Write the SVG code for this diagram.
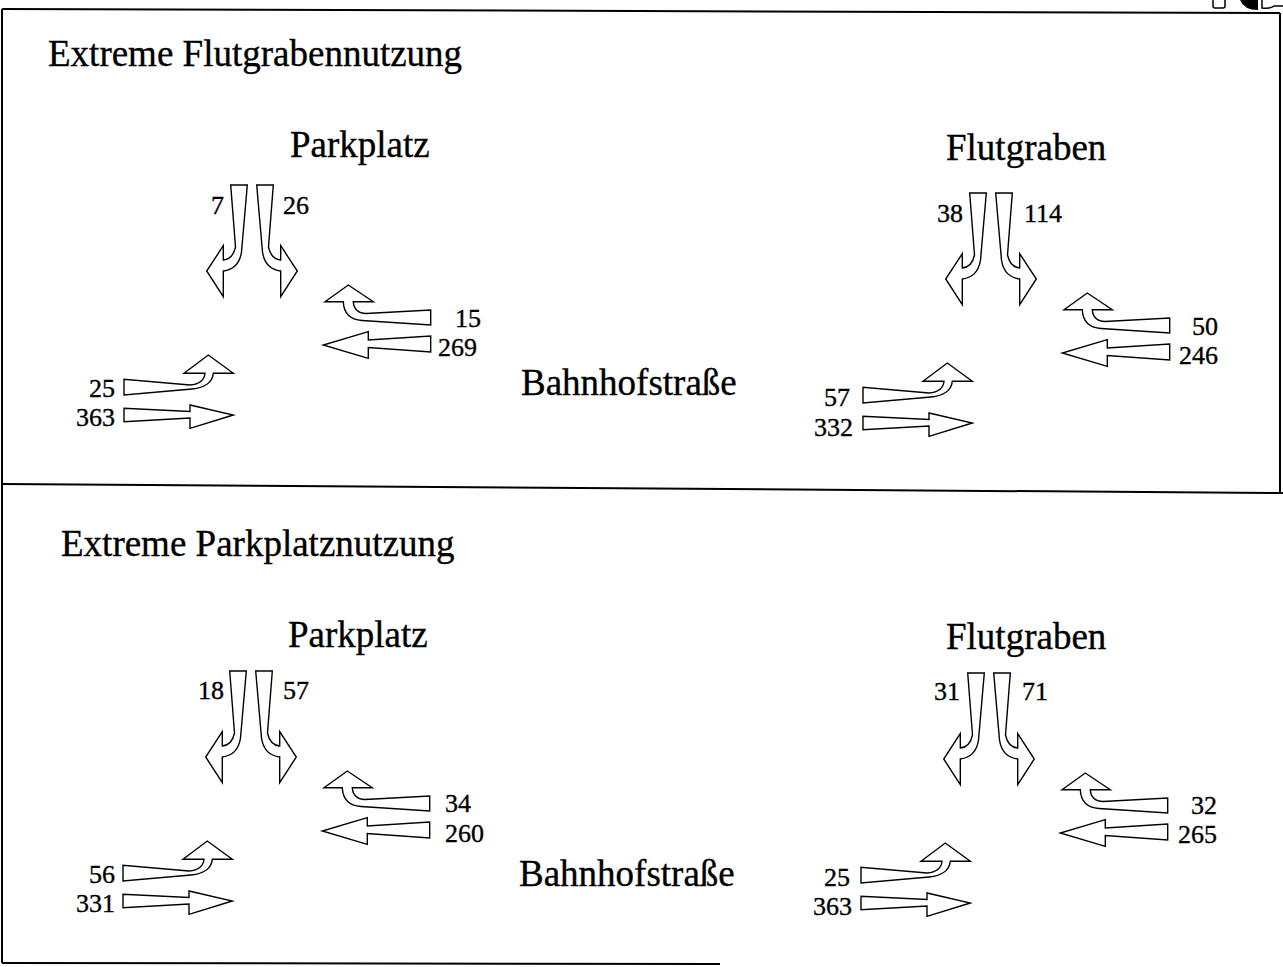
<svg xmlns="http://www.w3.org/2000/svg" xmlns:xlink="http://www.w3.org/1999/xlink" width="1283" height="967" viewBox="0 0 1283 967">
<style>
.arr{fill:#fff;stroke:#000;stroke-width:1.4;stroke-linejoin:miter}
.t{font-family:"Liberation Serif","Times New Roman",serif;fill:#000;stroke:#000;stroke-width:0.35}
.h{font-size:37px}
.n{font-size:26px}
.frame{stroke:#000;stroke-width:2;fill:none}
</style>
<defs>
<g id="arrowset">
<path class="arr" d="M230.7,185 L247.3,185 L241.5,252 Q239,269 223.3,271 L223.3,296.7 L206.7,271 L223.3,245.7 L223.3,260 Q233,259 235.5,247 Z"/>
<path class="arr" transform="translate(504,0) scale(-1,1)" d="M230.7,185 L247.3,185 L241.5,252 Q239,269 223.3,271 L223.3,296.7 L206.7,271 L223.3,245.7 L223.3,260 Q233,259 235.5,247 Z"/>
<path class="arr" d="M430.7,310 L430.7,325 L362,320.5 Q344,319 343.3,301.7 L325,301.7 L348.3,285 L373.3,301.7 L353.3,301.7 Q354,313 366,313.5 Z"/>
<path class="arr" d="M430.7,336 L430.7,352 L368.3,347.5 L368.3,358.3 L323.3,345 L368.3,331.7 L368.3,340 Z"/>
<path class="arr" d="M124,379.3 L124,395 L192,389 Q212,387 213.3,373.3 L233.3,373.3 L208.3,355 L184,373.3 L205,373.3 Q204,384 190,385 Z"/>
<path class="arr" d="M124,408.3 L124,421.7 L190,418 L190,428.3 L233.3,415 L190,405 L190,411.5 Z"/>
</g>
</defs>

<g id="frame">
<line class="frame" x1="2" y1="9" x2="1280" y2="13"/>
<line class="frame" x1="2" y1="9" x2="2" y2="963"/>
<line class="frame" x1="1280" y1="13" x2="1280" y2="492"/>
<line class="frame" x1="2" y1="484" x2="1283" y2="493"/>
<line class="frame" x1="2" y1="963" x2="720" y2="964"/>
</g>

<g id="corner-mark">
<rect x="1213" y="-2" width="12" height="10" rx="2" fill="none" stroke="#000" stroke-width="1.5"/>
<path d="M1258,-1 L1258,10 Q1244,10 1240,0 Z" fill="#000"/>
<path d="M1262,0 L1262,8 Q1270,9 1274,6 L1283,6" fill="none" stroke="#000" stroke-width="1.5"/>
</g>

<g id="titles">
<text class="t h" x="48" y="66">Extreme Flutgrabennutzung</text>
<text class="t h" x="61" y="556">Extreme Parkplatznutzung</text>
</g>

<g id="street-labels">
<text class="t h" x="290" y="157">Parkplatz</text>
<text class="t h" x="946" y="160">Flutgraben</text>
<text class="t h" x="521" y="395">Bahnhofstraße</text>
<text class="t h" x="288" y="647">Parkplatz</text>
<text class="t h" x="946" y="649">Flutgraben</text>
<text class="t h" x="519" y="886">Bahnhofstraße</text>
</g>

<g id="node-top-parkplatz">
<use xlink:href="#arrowset" href="#arrowset"/>
<text class="t n" x="224" y="214" text-anchor="end">7</text>
<text class="t n" x="283" y="214">26</text>
<text class="t n" x="455" y="327">15</text>
<text class="t n" x="438" y="356">269</text>
<text class="t n" x="115" y="397" text-anchor="end">25</text>
<text class="t n" x="115" y="426" text-anchor="end">363</text>
</g>

<g id="node-top-flutgraben">
<use xlink:href="#arrowset" href="#arrowset" transform="translate(739,8)"/>
<text class="t n" x="963" y="222" text-anchor="end">38</text>
<text class="t n" x="1024" y="222">114</text>
<text class="t n" x="1218" y="335" text-anchor="end">50</text>
<text class="t n" x="1218" y="364" text-anchor="end">246</text>
<text class="t n" x="850" y="406" text-anchor="end">57</text>
<text class="t n" x="853" y="436" text-anchor="end">332</text>
</g>

<g id="node-bottom-parkplatz">
<use xlink:href="#arrowset" href="#arrowset" transform="translate(-1,486)"/>
<text class="t n" x="224" y="699" text-anchor="end">18</text>
<text class="t n" x="283" y="699">57</text>
<text class="t n" x="445" y="812">34</text>
<text class="t n" x="445" y="842">260</text>
<text class="t n" x="115" y="883" text-anchor="end">56</text>
<text class="t n" x="115" y="912" text-anchor="end">331</text>
</g>

<g id="node-bottom-flutgraben">
<use xlink:href="#arrowset" href="#arrowset" transform="translate(737,488)"/>
<text class="t n" x="960" y="700" text-anchor="end">31</text>
<text class="t n" x="1022" y="700">71</text>
<text class="t n" x="1217" y="814" text-anchor="end">32</text>
<text class="t n" x="1217" y="843" text-anchor="end">265</text>
<text class="t n" x="850" y="886" text-anchor="end">25</text>
<text class="t n" x="852" y="915" text-anchor="end">363</text>
</g>
</svg>
